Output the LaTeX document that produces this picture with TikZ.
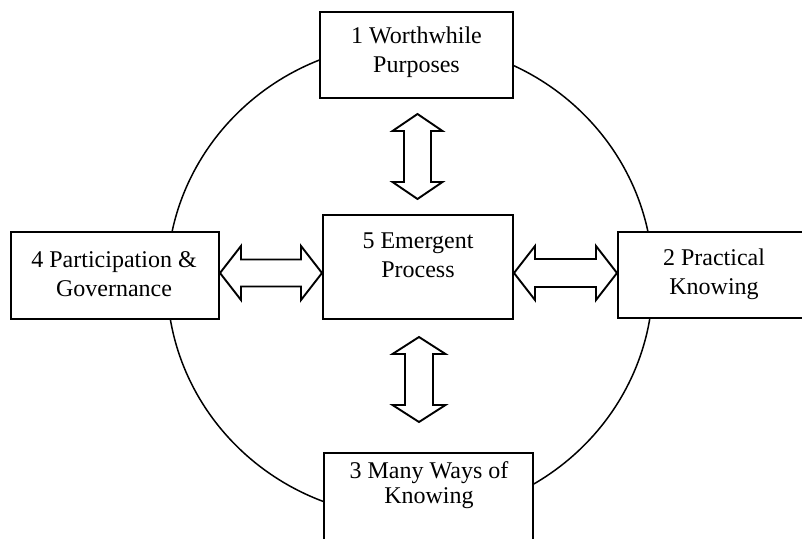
\documentclass[tikz,border=0pt]{standalone}
\usepackage{fontspec}
\setmainfont{Liberation Serif}
\usetikzlibrary{calc}

% Outlined double-headed block arrows.
% #1 first tip, #2 second tip, #3 half head width, #4 half shaft width, #5 head length
\newcommand\vbiarrow[5]{%
  \draw[blockarrow] let \p1=(#1), \p2=(#2) in
    (\x1,\y1) -- (\x1+#3,\y1-#5) -- (\x1+#4,\y1-#5) -- (\x1+#4,\y2+#5)
    -- (\x1+#3,\y2+#5) -- (\x1,\y2) -- (\x1-#3,\y2+#5) -- (\x1-#4,\y2+#5)
    -- (\x1-#4,\y1-#5) -- (\x1-#3,\y1-#5) -- cycle;}
\newcommand\hbiarrow[5]{%
  \draw[blockarrow] let \p1=(#1), \p2=(#2) in
    (\x1,\y1) -- (\x1+#5,\y1+#3) -- (\x1+#5,\y1+#4) -- (\x2-#5,\y1+#4)
    -- (\x2-#5,\y1+#3) -- (\x2,\y1) -- (\x2-#5,\y1-#3) -- (\x2-#5,\y1-#4)
    -- (\x1+#5,\y1-#4) -- (\x1+#5,\y1-#3) -- cycle;}

\begin{document}
\begin{tikzpicture}[x=1pt,y=-1pt,
  box/.style={draw, line width=2pt, rectangle, inner sep=0pt, fill=white},
  lbl/.style={align=center, font=\fontsize{24}{29}\selectfont, inner sep=0pt},
  blockarrow/.style={draw, line width=1.9pt, line join=miter, fill=white},
  ring/.style={draw, line width=1.5pt}]
\useasboundingbox (0,0) rectangle (802,538);
\clip (0,0) rectangle (802,538);

% surrounding ring
\draw[ring] (410,280) ellipse [x radius=243pt, y radius=237pt];

% boxes
\node[box, minimum width=193pt, minimum height=86pt]  (p1) at (416.5,55)    {};
\node[box, minimum width=194pt, minimum height=86pt]  (p2) at (715,275)     {};
\node[box, minimum width=209pt, minimum height=117pt] (p3) at (428.5,511.5) {};
\node[box, minimum width=208pt, minimum height=87pt]  (p4) at (115,275.5)   {};
\node[box, minimum width=190pt, minimum height=104pt] (p5) at (418,267)     {};

% labels
\node[lbl] (t1) at (416.5,52) {1 Worthwhile\\Purposes};
\node[lbl] (t2) at (714,274)  {2 Practical\\Knowing};
\node[lbl] (t3) at (429,485)  {3 Many Ways of\\[-4pt]Knowing};
\node[lbl] (t4) at (114,274)  {4 Participation \&\\Governance};
\node[lbl] (t5) at (418,255)  {5 Emergent\\Process};

% arrow end points
\coordinate (v1a) at ($(p1.south)+(1,15)$);
\coordinate (v1b) at ($(p5.north)+(0,-15)$);
\coordinate (v2a) at ($(p5.south)+(1,17)$);
\coordinate (v2b) at ($(p3.north)+(0,-30)$);
\coordinate (h1a) at ($(p4.east)+(0,-2.5)$);
\coordinate (h1b) at (p5.west |- h1a);
\coordinate (h2b) at ($(p2.west)+(0,-2)$);
\coordinate (h2a) at (p5.east |- h2b);

% connectors
\vbiarrow{v1a}{v1b}{25pt}{13.5pt}{17pt}
\vbiarrow{v2a}{v2b}{26.5pt}{14pt}{17pt}
\hbiarrow{h1a}{h1b}{27pt}{13.5pt}{21pt}
\hbiarrow{h2a}{h2b}{27pt}{14pt}{21pt}
\end{tikzpicture}
\end{document}
